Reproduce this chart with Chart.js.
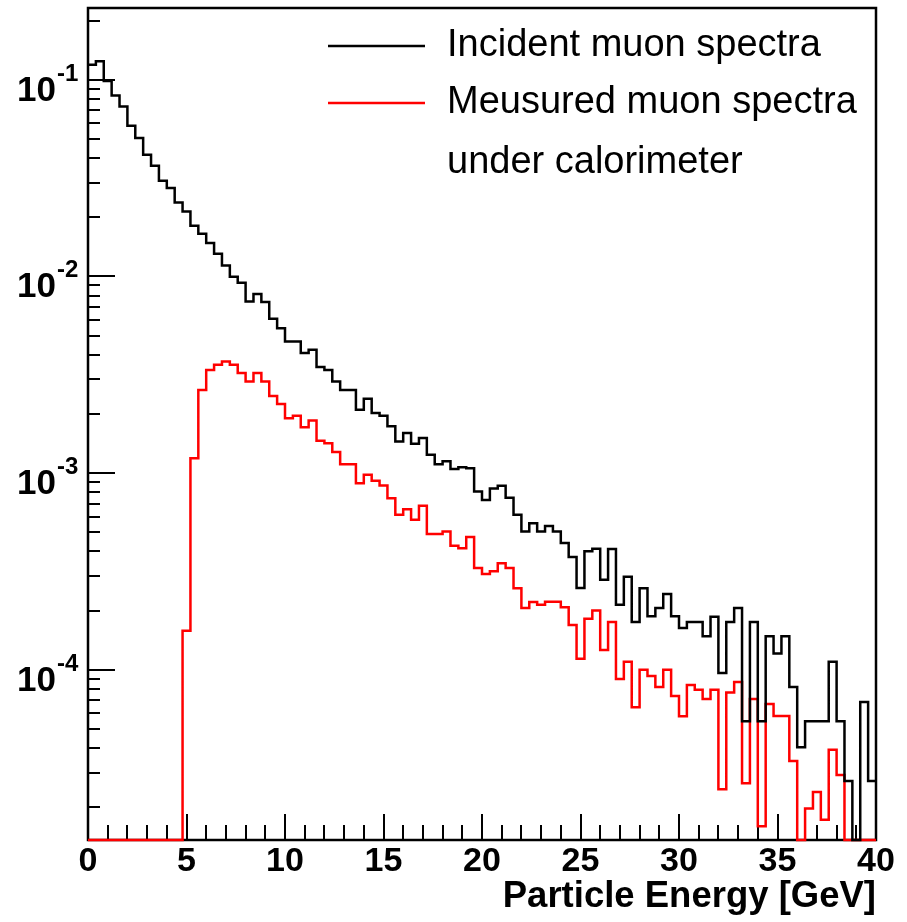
<!DOCTYPE html>
<html>
<head>
<meta charset="utf-8">
<script src="https://cdn.jsdelivr.net/npm/chart.js@4.4.1/dist/chart.umd.min.js"></script>
<style>
  html, body { margin: 0; padding: 0; background: #fff; }
  canvas { display: block; }
</style>
</head>
<body>
<canvas id="spectra" width="907" height="922"></canvas>
<script>
// bin edges [GeV], 100 bins of 0.4 GeV
const binEdges = [
  0, 0.4, 0.8, 1.2, 1.6, 2, 2.4, 2.8, 3.2, 3.6,
  4, 4.4, 4.8, 5.2, 5.6, 6, 6.4, 6.8, 7.2, 7.6,
  8, 8.4, 8.8, 9.2, 9.6, 10, 10.4, 10.8, 11.2, 11.6,
  12, 12.4, 12.8, 13.2, 13.6, 14, 14.4, 14.8, 15.2, 15.6,
  16, 16.4, 16.8, 17.2, 17.6, 18, 18.4, 18.8, 19.2, 19.6,
  20, 20.4, 20.8, 21.2, 21.6, 22, 22.4, 22.8, 23.2, 23.6,
  24, 24.4, 24.8, 25.2, 25.6, 26, 26.4, 26.8, 27.2, 27.6,
  28, 28.4, 28.8, 29.2, 29.6, 30, 30.4, 30.8, 31.2, 31.6,
  32, 32.4, 32.8, 33.2, 33.6, 34, 34.4, 34.8, 35.2, 35.6,
  36, 36.4, 36.8, 37.2, 37.6, 38, 38.4, 38.8, 39.2, 39.6,
  40
];

// incident muon spectra (black), one value per bin
const incident = [
  0.1193, 0.1241, 0.0986, 0.0833, 0.0732, 0.0584, 0.0506, 0.0416, 0.0366, 0.0307,
  0.0282, 0.0238, 0.0214, 0.0181, 0.0165, 0.0148, 0.01304, 0.01138, 0.00997, 0.00929,
  0.00746, 0.00814, 0.00741, 0.00609, 0.00546, 0.00467, 0.00467, 0.00408, 0.00424, 0.00346,
  0.00335, 0.00292, 0.00265, 0.00265, 0.00210, 0.00239, 0.00202, 0.00196, 0.00173, 0.00145,
  0.00160, 0.00141, 0.00151, 0.00124, 0.00111, 0.00115, 0.00105, 0.00107, 0.00106, 0.000806,
  0.000731, 0.000835, 0.000864, 0.000749, 0.000614, 0.000505, 0.000557, 0.000505, 0.000539, 0.000505,
  0.000442, 0.000375, 0.000261, 0.000401, 0.000413, 0.000287, 0.000412, 0.000214, 0.000297, 0.000175,
  0.000260, 0.000187, 0.000206, 0.000243, 0.000187, 0.000163, 0.000175, 0.000175, 0.000148, 0.000186,
  0.0000964, 0.000175, 0.000206, 0.0000548, 0.000175, 0.0000548, 0.000148, 0.000121, 0.000148, 0.0000818,
  0.0000404, 0.0000548, 0.0000548, 0.0000548, 0.000110, 0.0000548, 0.0000272, 0, 0.0000687, 0.0000272
];

// measured muon spectra under calorimeter (red)
const measured = [
  0, 0, 0, 0, 0, 0, 0, 0, 0, 0,
  0, 0, 0.000158, 0.00119, 0.00265, 0.00335, 0.00356, 0.00370, 0.00356, 0.00323,
  0.00292, 0.00323, 0.00292, 0.00247, 0.00225, 0.00190, 0.00196, 0.00171, 0.00185, 0.00146,
  0.00142, 0.00128, 0.00111, 0.00111, 0.000889, 0.000980, 0.000914, 0.000865, 0.000746, 0.000614,
  0.000656, 0.000579, 0.000682, 0.000490, 0.000490, 0.000505, 0.000427, 0.000415, 0.000474, 0.000329,
  0.000307, 0.000317, 0.000348, 0.000329, 0.000260, 0.000206, 0.000221, 0.000214, 0.000222, 0.000222,
  0.000208, 0.000169, 0.000114, 0.000182, 0.000200, 0.000126, 0.000175, 0.0000899, 0.000110, 0.0000646,
  0.000100, 0.0000931, 0.0000818, 0.000100, 0.0000737, 0.0000581, 0.0000838, 0.0000791, 0.0000710, 0.0000791,
  0.0000247, 0.0000766, 0.0000868, 0.0000265, 0.0000710, 0.0000160, 0.0000671, 0.0000583, 0.0000583, 0.0000344,
  0, 0.0000197, 0.0000239, 0.0000173, 0.0000392, 0.0000292, 0, 0, 0, 0
];

const xMajorTicks = [0, 5, 10, 15, 20, 25, 30, 35, 40];
const yDecades = [-5, -4, -3, -2, -1];
const yLabelDecades = [-4, -3, -2, -1];
const legendItems = [
  { text: "Incident muon spectra", color: "#000000" },
  { text: "Meusured muon spectra", color: "#ff0000" },
  { text: "under calorimeter", color: null }
];

const Y_MIN = 1.364e-5;
const Y_MAX = 0.2317;
const FONT = "'Liberation Sans', Arial, sans-serif";

// empty bins are drawn on the bottom of the frame, like ROOT does
function histPoints(vals) {
  return binEdges.map((x, i) => {
    const v = vals[Math.min(i, vals.length - 1)];
    return { x: x, y: v > 0 ? v : Y_MIN };
  });
}

const rootFrame = {
  id: "rootFrame",
  beforeDatasetsDraw(chart) {
    const ctx = chart.ctx;
    const a = chart.chartArea;
    const xs = chart.scales.x, ys = chart.scales.y;
    ctx.save();
    ctx.strokeStyle = "#000";
    ctx.lineWidth = 2.5;
    ctx.strokeRect(a.left, a.top, a.right - a.left, a.bottom - a.top);
    ctx.lineWidth = 2;
    ctx.beginPath();
    for (let t = 0; t <= 40; t++) {
      const px = Math.round(xs.getPixelForValue(t));
      const len = xMajorTicks.includes(t) ? 26 : 15;
      ctx.moveTo(px, a.bottom);
      ctx.lineTo(px, a.bottom - len);
    }
    yDecades.forEach(d => {
      for (let m = 1; m <= 9; m++) {
        const v = m * Math.pow(10, d);
        if (v < Y_MIN || v > Y_MAX) continue;
        const py = Math.round(ys.getPixelForValue(v));
        ctx.moveTo(a.left, py);
        ctx.lineTo(a.left + (m === 1 ? 27 : 12), py);
      }
    });
    ctx.stroke();
    ctx.restore();
  },
  afterDraw(chart) {
    const ctx = chart.ctx;
    const ys = chart.scales.y;
    ctx.save();
    ctx.fillStyle = "#000";
    // y labels 10^n
    yLabelDecades.forEach(d => {
      const py = ys.getPixelForValue(Math.pow(10, d));
      ctx.font = "bold 35px " + FONT;
      ctx.textAlign = "right";
      ctx.textBaseline = "alphabetic";
      ctx.fillText("10", 56, py + 21);
      ctx.font = "bold 24px " + FONT;
      ctx.textAlign = "left";
      ctx.fillText("-" + Math.abs(d), 57, py + 1);
    });
    // legend
    ctx.font = "38px " + FONT;
    ctx.textAlign = "left";
    ctx.textBaseline = "middle";
    const rows = [46, 103, 163];
    legendItems.forEach((it, i) => {
      if (it.color) {
        ctx.strokeStyle = it.color;
        ctx.lineWidth = 2.5;
        ctx.beginPath();
        ctx.moveTo(328, rows[i]);
        ctx.lineTo(425, rows[i]);
        ctx.stroke();
      }
      ctx.fillStyle = "#000";
      ctx.fillText(it.text, 447, rows[i]);
    });
    ctx.restore();
  }
};

new Chart(document.getElementById("spectra"), {
  type: "line",
  data: {
    datasets: [
      {
        label: "Incident muon spectra",
        data: histPoints(incident),
        borderColor: "#000000",
        borderWidth: 2.5,
        stepped: "before",
        pointRadius: 0,
        fill: false,
        clip: 4
      },
      {
        label: "Meusured muon spectra",
        data: histPoints(measured),
        borderColor: "#ff0000",
        borderWidth: 2.5,
        stepped: "before",
        pointRadius: 0,
        fill: false,
        clip: 4
      }
    ]
  },
  options: {
    responsive: false,
    animation: false,
    devicePixelRatio: 1,
    layout: { padding: { top: 8, right: 31, left: 0, bottom: 0 } },
    plugins: { legend: { display: false }, tooltip: { enabled: false } },
    scales: {
      x: {
        type: "linear",
        min: 0,
        max: 40,
        grid: { display: false, drawTicks: false },
        border: { display: false },
        ticks: {
          stepSize: 1,
          autoSkip: false,
          maxRotation: 0,
          padding: 5,
          color: "#000",
          font: { family: FONT, size: 34, weight: "bold", lineHeight: 1 },
          callback: v => (xMajorTicks.includes(v) ? String(v) : "")
        },
        title: {
          display: true,
          text: "Particle Energy [GeV]",
          align: "end",
          color: "#000",
          padding: { top: 0, bottom: 3 },
          font: { family: FONT, size: 36.5, weight: "bold", lineHeight: 1.2 }
        },
        afterFit: s => { s.height = 82; }
      },
      y: {
        type: "logarithmic",
        min: Y_MIN,
        max: Y_MAX,
        grid: { display: false, drawTicks: false },
        border: { display: false },
        ticks: { display: false },
        afterFit: s => { s.width = 88; }
      }
    }
  },
  plugins: [rootFrame]
});
</script>
</body>
</html>
